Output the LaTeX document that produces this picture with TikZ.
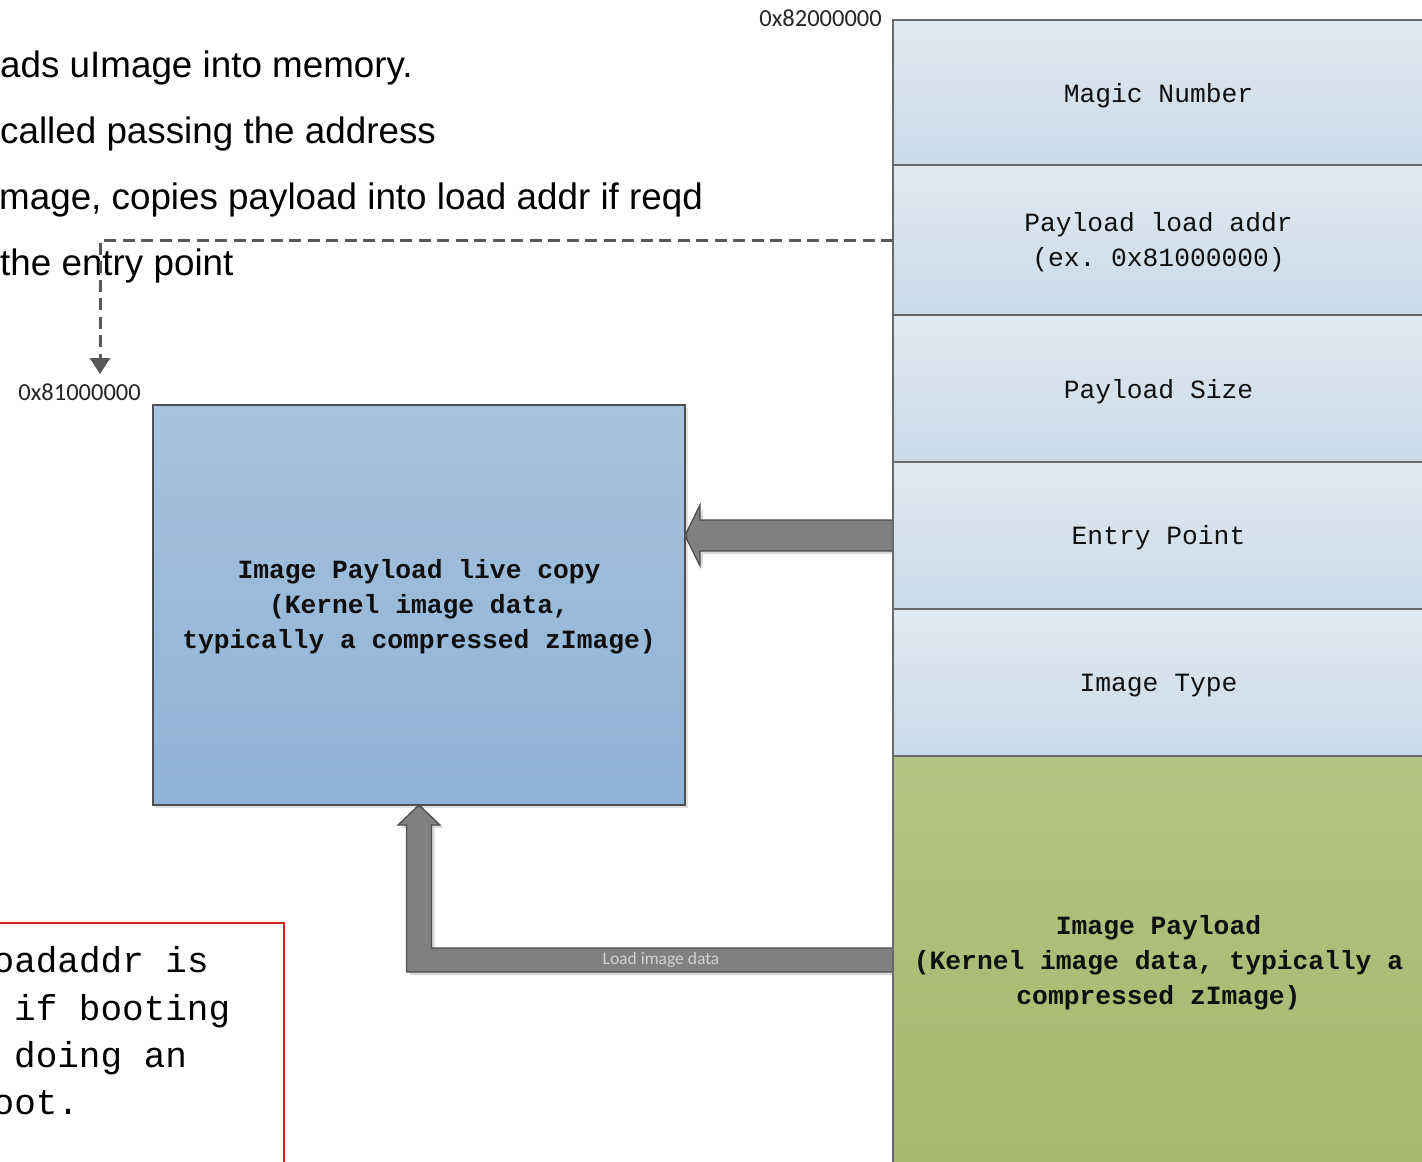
\documentclass[tikz,border=0pt]{standalone}
\usepackage{fontspec}
\setmainfont{Liberation Sans}
\newfontfamily\monofont{Liberation Mono}
\newfontfamily\labelfont{Carlito}
\usetikzlibrary{arrows.meta,calc,shadows}
\frenchspacing

\definecolor{hdrtop}{RGB}{224,233,242}
\definecolor{hdrbot}{RGB}{201,219,234}
\definecolor{livetop}{RGB}{166,194,222}
\definecolor{livebot}{RGB}{143,179,214}
\definecolor{greentop}{RGB}{179,195,129}
\definecolor{greenbot}{RGB}{166,184,110}
\definecolor{edge}{RGB}{105,105,105}
\definecolor{blockfill}{RGB}{128,128,128}
\definecolor{blockedge}{RGB}{80,80,80}
\definecolor{dashgray}{RGB}{88,88,88}
\definecolor{notered}{RGB}{218,30,30}
\definecolor{inktext}{RGB}{15,15,15}

\pgfdeclarelayer{background}
\pgfsetlayers{background,main}

\begin{document}
\begin{tikzpicture}[x=1pt,y=-1pt,
  field/.style={draw=edge, line width=1.4pt, top color=hdrtop, bottom color=hdrbot,
    minimum width=531pt, inner sep=0pt, outer sep=0pt, anchor=north},
  payloadfield/.style={field, top color=greentop, bottom color=greenbot},
  fieldtext/.style={inner sep=0pt, text=inktext, align=center,
    font=\monofont\fontsize{26.3}{35}\selectfont},
  boldtext/.style={fieldtext, font=\monofont\bfseries\fontsize{26.3}{34.8}\selectfont},
  toptext/.style={anchor=base west, inner sep=0pt, text=black,
    font=\fontsize{36.8}{44}\selectfont},
  notetext/.style={anchor=base west, inner sep=0pt, text=black,
    font=\monofont\fontsize{36}{48}\selectfont},
  addr/.style={inner sep=0pt, text=black!85, font=\labelfont\fontsize{24.5}{28}\selectfont},
  blockarrow/.style={fill=blockfill, draw=blockedge, line width=1.3pt, line join=miter,
    drop shadow={shadow xshift=3pt, shadow yshift=-3pt, opacity=0.15, fill=black}},
]
  % page
  \useasboundingbox (0,0) rectangle (1422,1162);

  % step list (left part runs past the page edge)
  \node[toptext] (stepa) at (0,77)  {ads uImage into memory.};
  \node[toptext] (stepb) at (0,143) {called passing the address};
  \node[toptext] (stepc) at (-1,209) {mage, copies payload into load addr if reqd};
  \node[toptext] (stepd) at (0,275) {the entry point};

  % uImage header fields
  \node[field, minimum height=145pt, anchor=north west] (magic) at (893,20) {};
  \node[field, minimum height=150pt] (loadaddr) at (magic.south) {};
  \node[field, minimum height=147pt] (psize) at (loadaddr.south) {};
  \node[field, minimum height=147pt] (entry) at (psize.south) {};
  \node[field, minimum height=147pt] (itype) at (entry.south) {};
  \node[payloadfield, minimum height=408pt] (payload) at (itype.south) {};

  \node[fieldtext] (magictxt) at ($(magic.center)+(0,3)$) {Magic Number};
  \node[fieldtext] (loadaddrtxt) at ($(loadaddr.center)+(0,2)$) {Payload load addr\\(ex. 0x81000000)};
  \node[fieldtext] (psizetxt) at ($(psize.center)+(0,3)$) {Payload Size};
  \node[fieldtext] (entrytxt) at ($(entry.center)+(0,2)$) {Entry Point};
  \node[fieldtext] (itypetxt) at ($(itype.center)+(0,3)$) {Image Type};
  \node[boldtext] (payloadtxt) at ($(payload.center)+(0,2.5)$)
    {Image Payload\\(Kernel image data, typically a\\compressed zImage)};

  % live copy at the load address
  \node[draw=blockedge, line width=1.3pt, top color=livetop, bottom color=livebot,
    minimum width=532pt, minimum height=400pt, anchor=north west, inner sep=0pt,
    outer sep=0pt,
    drop shadow={shadow xshift=3pt, shadow yshift=-3pt, opacity=0.12, fill=black}]
    (live) at (153,405) {};
  \node[boldtext] (livetxt) at ($(live.center)+(0,2)$)
    {Image Payload live copy\\(Kernel image data,\\typically a compressed zImage)};

  % address labels
  \node[addr, anchor=east] (addrhi) at (882,18) {0x82000000};
  \node[addr, anchor=east] (addrlo) at (141,392) {0x81000000};

  % load address pointer
  \coordinate (entrytip) at (100,374);
  \draw[dashgray, line width=3pt, dash pattern=on 12pt off 6.5pt,
    -{Triangle[length=16pt,width=20pt]}] (loadaddr.west) -| (entrytip);

  % block arrows, drawn beneath the boxes
  \coordinate (eptip) at (live.east |- entry.west);
  \coordinate (bend) at (live.south |- payload.west);
  \coordinate (ldtip) at (live.south);
  \begin{pgfonlayer}{background}
    \fill[white] (0,0) rectangle (1422,1162);
    \draw[blockarrow] ($(entry.west)+(0,-15.5)$) -- ($(eptip)+(15,-15.5)$)
      -- ($(eptip)+(15,-30.5)$) -- (eptip) -- ($(eptip)+(15,30.5)$)
      -- ($(eptip)+(15,15.5)$) -- ($(entry.west)+(0,15.5)$) -- cycle;
    \draw[blockarrow] ($(payload.west)+(0,-12)$) -- ($(bend)+(12.5,-12)$)
      -- ($(ldtip)+(12.5,20)$) -- ($(ldtip)+(21,20)$) -- (ldtip)
      -- ($(ldtip)+(-21,20)$) -- ($(ldtip)+(-12.5,20)$)
      -- ($(bend)+(-12.5,12)$) -- ($(payload.west)+(0,12)$) -- cycle;
  \end{pgfonlayer}
  \node[inner sep=0pt, text=black!18, font=\labelfont\fontsize{17.5}{20}\selectfont]
    (ldlabel) at (661,960) {Load image data};

  % note box
  \node[draw=notered, line width=1.8pt, fill=white, minimum width=295pt,
    minimum height=260pt, anchor=north east, inner sep=0pt] (note) at (285,922) {};
  \node[notetext] (notea) at (-7.5,972)  {oadaddr is};
  \node[notetext] (noteb) at (14,1020)   {if booting};
  \node[notetext] (notec) at (14,1067)   {doing an};
  \node[notetext] (noted) at (-7.5,1114) {oot.};
\end{tikzpicture}
\end{document}
